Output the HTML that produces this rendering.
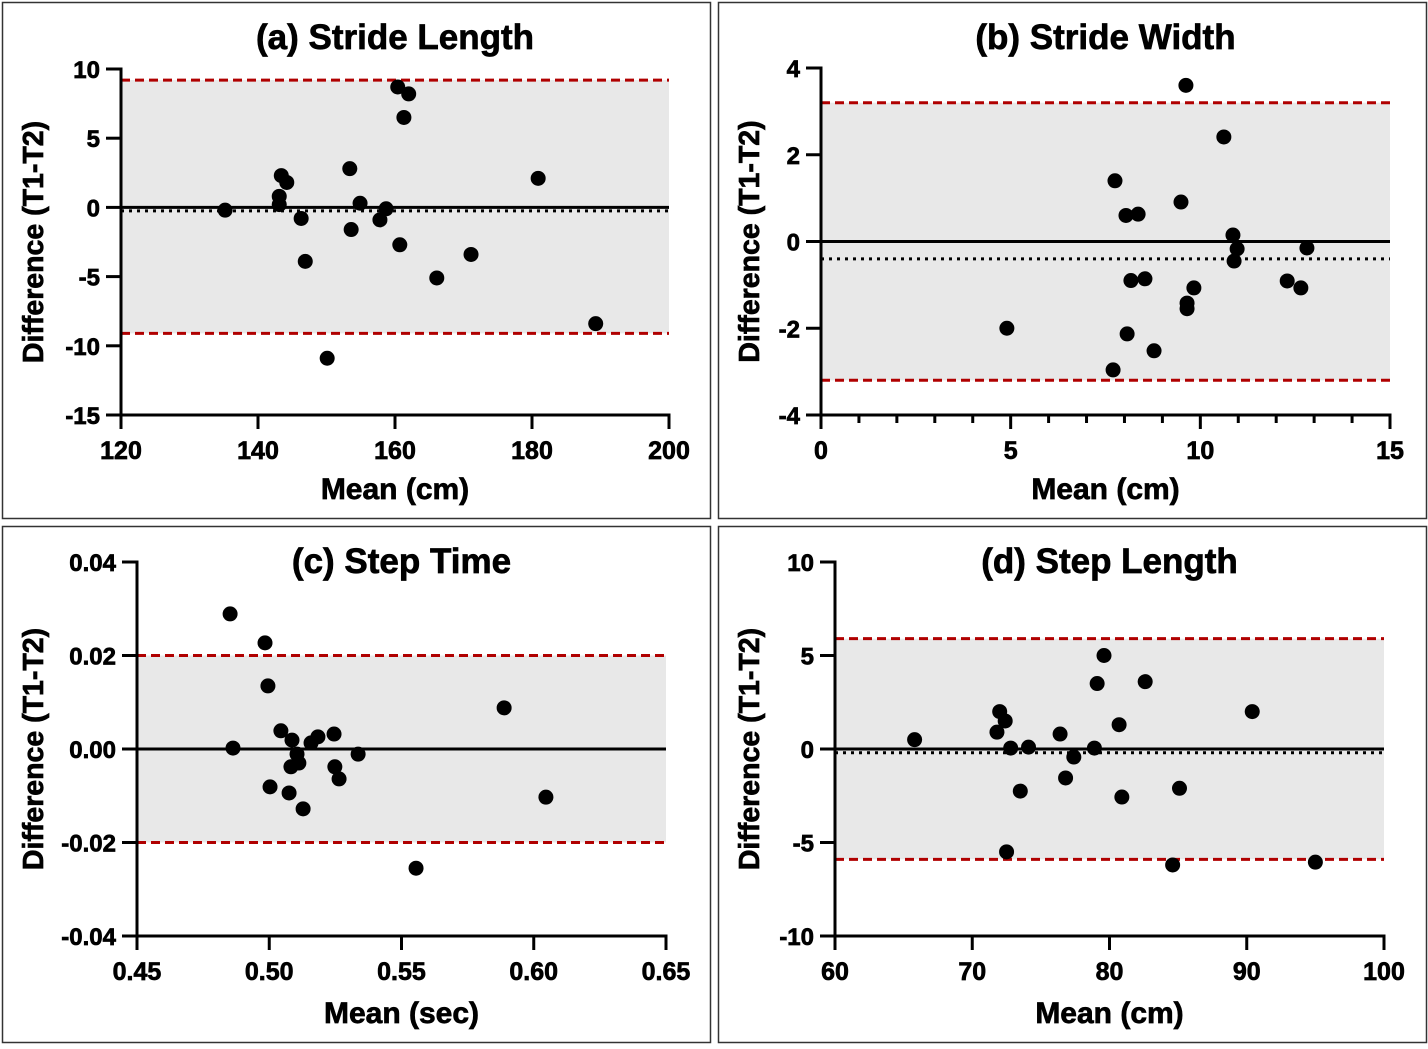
<!DOCTYPE html>
<html><head><meta charset="utf-8"><style>
body{margin:0;background:#fff}
svg text{font-family:"Liberation Sans",Arial,sans-serif;font-weight:bold;stroke:#000;stroke-width:0.7px}
</style></head><body>
<svg id="s" width="1428" height="1044"></svg>
<script>
const aX=[135.2,143.4,143.1,143.1,144.2,146.3,146.9,150.1,153.4,153.6,154.9,157.8,158.7,160.4,162,161.3,160.7,166.1,171.1,180.9,189.3];
const aY=[-0.2,2.3,0.8,0.2,1.8,-0.8,-3.9,-10.9,2.8,-1.6,0.3,-0.9,-0.1,8.7,8.2,6.5,-2.7,-5.1,-3.4,2.1,-8.4];
const bX=[4.9,7.7,7.75,8.04,8.36,8.07,8.17,8.54,8.78,9.49,9.62,9.65,9.65,9.83,10.62,10.86,10.97,10.89,12.29,12.65,12.81];
const bY=[-2.0,-2.96,1.4,0.6,0.63,-2.13,-0.9,-0.86,-2.52,0.91,3.6,-1.42,-1.55,-1.07,2.41,0.15,-0.17,-0.45,-0.91,-1.07,-0.15];
const cX=[0.4852,0.4863,0.4984,0.4995,0.5003,0.5044,0.5075,0.5086,0.5082,0.5105,0.5112,0.5128,0.5158,0.5184,0.5245,0.5248,0.5264,0.5336,0.5555,0.5888,0.6046];
const cY=[0.0289,0.0002,0.0227,0.0135,-0.0081,0.0039,-0.0094,0.0019,-0.0038,-0.0011,-0.003,-0.0128,0.0013,0.0026,0.0032,-0.0038,-0.0064,-0.0011,-0.0255,0.0088,-0.0103];
const dX=[65.8,71.8,72,72.4,72.5,72.8,73.5,74.1,76.4,76.8,77.4,78.9,79.1,79.6,80.7,80.9,82.6,84.6,85.1,90.4,95];
const dY=[0.5,0.9,2.0,1.5,-5.5,0.05,-2.25,0.1,0.8,-1.55,-0.43,0.05,3.5,5.0,1.3,-2.57,3.6,-6.2,-2.1,2.0,-6.05];
const aXT=["120","140","160","180","200"], aYT=["10","5","0","-5","-10","-15"];
const bXT=["0","5","10","15"], bYT=["4","2","0","-2","-4"];
const cXT=["0.45","0.50","0.55","0.60","0.65"], cYT=["0.04","0.02","0.00","-0.02","-0.04"];
const dXT=["60","70","80","90","100"], dYT=["10","5","0","-5","-10"];
const aLoA=[9.2,-9.1,-0.25], bLoA=[3.2,-3.2,-0.4], cLoA=[0.02,-0.02,null], dLoA=[5.9,-5.9,-0.2];
const panels=[
 {id:"a",title:"(a) Stride Length",xl:"Mean (cm)",box:[2,2,708,516],px:[121,669],py:[69,415],xd:[120,200],yd:[10,-15],xs:aX,ys:aY,xt:aXT,yt:aYT,loa:aLoA,xm:0},
 {id:"b",title:"(b) Stride Width",xl:"Mean (cm)",box:[718,2,708,516],px:[821,1390],py:[68,415],xd:[0,15],yd:[4,-4],xs:bX,ys:bY,xt:bXT,yt:bYT,loa:bLoA,xm:4},
 {id:"c",title:"(c) Step Time",xl:"Mean (sec)",box:[2,526,708,516],px:[137,666],py:[562,936],xd:[0.45,0.65],yd:[0.04,-0.04],xs:cX,ys:cY,xt:cXT,yt:cYT,loa:cLoA,xm:0},
 {id:"d",title:"(d) Step Length",xl:"Mean (cm)",box:[718,526,708,516],px:[835,1384],py:[562,936],xd:[60,100],yd:[10,-10],xs:dX,ys:dY,xt:dXT,yt:dYT,loa:dLoA,xm:0}];
const S=document.getElementById('s'),NS="http://www.w3.org/2000/svg";
function mk(t,a,p,txt){const e=document.createElementNS(NS,t);for(const k in a)e.setAttribute(k,a[k]);if(txt!=null)e.textContent=txt;p.appendChild(e);return e;}
panels.forEach(P=>{
 const g=mk('g',{},S);
 
 
 const X=v=>P.px[0]+(v-P.xd[0])/(P.xd[1]-P.xd[0])*(P.px[1]-P.px[0]);
 const Y=v=>P.py[0]+(v-P.yd[0])/(P.yd[1]-P.yd[0])*(P.py[1]-P.py[0]);
 const r=mk('rect',{x:P.box[0]+0.5,y:P.box[1]+0.5,width:P.box[2],height:P.box[3],fill:'none',stroke:'#333','stroke-width':1.5},g);
 
 
 const band=mk('rect',{x:X(P.xd[0]),y:Y(P.loa[0]),width:X(P.xd[1])-X(P.xd[0]),height:Y(P.loa[1])-Y(P.loa[0]),fill:'#e8e8e8'},g);
 
 
 [0,1].forEach(i=>{const l=mk('line',{x1:X(P.xd[0]),x2:X(P.xd[1]),y1:Y(P.loa[i]),y2:Y(P.loa[i]),stroke:'#b00000','stroke-width':3,'stroke-dasharray':'9,5'},g);
  
  });
 const z=mk('line',{x1:X(P.xd[0]),x2:X(P.xd[1]),y1:Y(0),y2:Y(0),stroke:'#000','stroke-width':3},g);
 
 
 if(P.loa[2]!=null){const m=mk('line',{x1:X(P.xd[0]),x2:X(P.xd[1]),y1:Y(P.loa[2]),y2:Y(P.loa[2]),stroke:'#000','stroke-width':3,'stroke-dasharray':'3,5'},g);
  
  }
 const ax=mk('line',{x1:P.px[0]-15,x2:P.px[1]+1.5,y1:P.py[1],y2:P.py[1],stroke:'#000','stroke-width':3},g);
 
 
 const ay=mk('line',{x1:P.px[0],x2:P.px[0],y1:P.py[0]-1.5,y2:P.py[1]+14,stroke:'#000','stroke-width':3},g);
 
 
 const nx=P.xt.length;
 P.xt.forEach((t,i)=>{const v=P.xd[0]+(P.xd[1]-P.xd[0])*i/(nx-1),x=X(v);
  mk('line',{x1:x,x2:x,y1:P.py[1],y2:P.py[1]+14,stroke:'#000','stroke-width':3},g);
  const tx=mk('text',{x:x,y:P.py[1]+44,'font-size':25,'text-anchor':'middle'},g,t);
  
  
  if(P.xm&&i<nx-1){const step=(X(P.xd[0]+(P.xd[1]-P.xd[0])/(nx-1))-X(P.xd[0]))/(P.xm+1);
   for(let k=1;k<=P.xm;k++)mk('line',{x1:x+k*step,x2:x+k*step,y1:P.py[1],y2:P.py[1]+8,stroke:'#000','stroke-width':3},g);}
 });
 const ny=P.yt.length;
 P.yt.forEach((t,i)=>{const v=P.yd[0]+(P.yd[1]-P.yd[0])*i/(ny-1),y=Y(v);
  mk('line',{x1:P.px[0]-15,x2:P.px[0],y1:y,y2:y,stroke:'#000','stroke-width':3},g);
  const ty=mk('text',{x:P.px[0]-21,y:y+9,'font-size':24,'text-anchor':'end'},g,t);
  
  });
 P.xs.forEach((v,i)=>{const c=mk('circle',{cx:X(v),cy:Y(P.ys[i]),r:7.5,fill:'#000'},g);
  
  });
 const ti=mk('text',{x:(P.px[0]+P.px[1])/2,y:P.box[1]+47,'font-size':35,'text-anchor':'middle'},g,P.title);
 
 
 const xl=mk('text',{x:(P.px[0]+P.px[1])/2,y:P.box[1]+497,'font-size':30,'text-anchor':'middle'},g,P.xl);
 
 
 const cy=(P.py[0]+P.py[1])/2,cx=P.box[0]+41;
 const yl=mk('text',{x:cx,y:cy,'font-size':28.5,'text-anchor':'middle',transform:`rotate(-90 ${cx} ${cy})`},g,'Difference (T1-T2)');
 
 
});
</script>
</body></html>
